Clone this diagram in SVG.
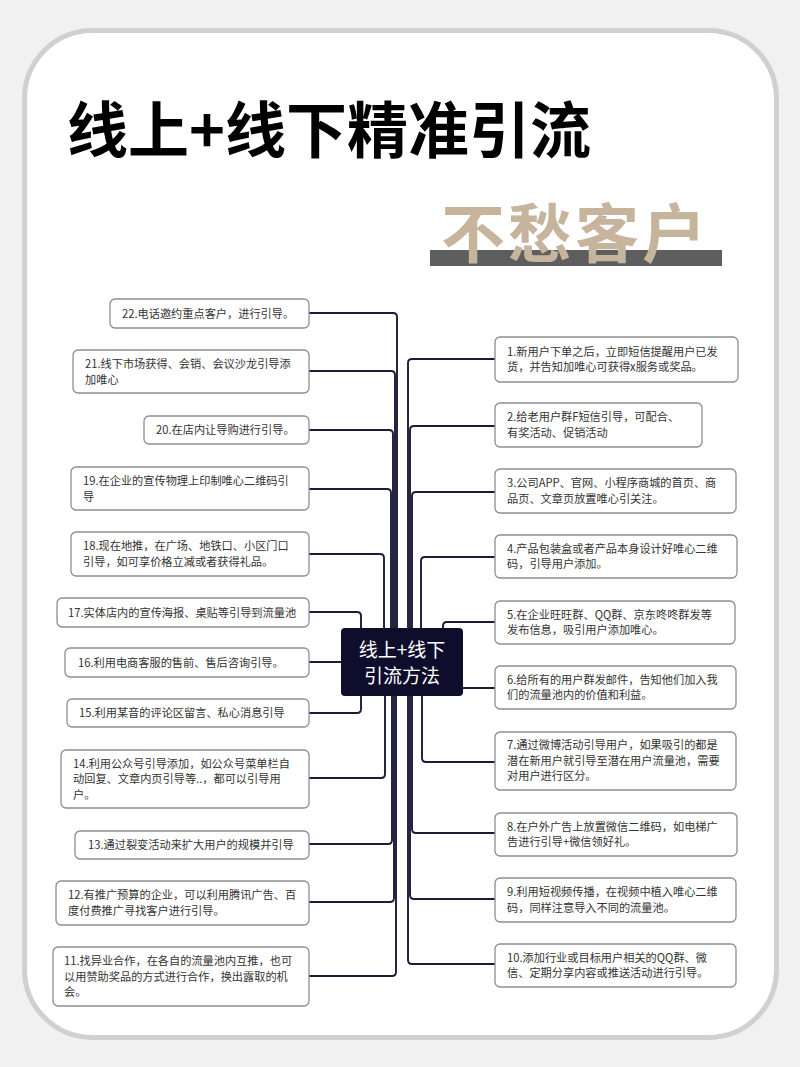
<svg xmlns="http://www.w3.org/2000/svg" width="800" height="1067" viewBox="0 0 800 1067">
<style>
.bx{fill:#ffffff;stroke:#8e8e8e;stroke-width:1.3}
.t{font-family:"Noto Sans CJK SC","Noto Sans",sans-serif;font-size:11.2px;fill:#333333}
.cn{fill:none;stroke:#1c1c3a;stroke-width:1.9;stroke-linejoin:round}
.ct{font-family:"Noto Sans CJK SC","Noto Sans",sans-serif;font-size:19px;fill:#ffffff;text-anchor:middle}
</style>
<rect x="0" y="0" width="800" height="1067" fill="#f1f1f1"/>
<rect x="24.5" y="30.5" width="752" height="1007" rx="68" fill="#ffffff" stroke="#d0d0d0" stroke-width="5"/>
<g id="title">
<text x="67" y="153" font-family="'Noto Sans CJK SC',sans-serif" font-size="61" font-weight="bold" fill="#000000">线上+线下精准引流</text>
</g>
<g id="subtitle">
<rect x="430" y="250" width="292" height="16" fill="#5e5e5e"/>
<text x="441" y="257" font-family="'Noto Sans CJK SC',sans-serif" font-size="64" font-weight="bold" letter-spacing="3" fill="#c6b49d">不愁客户</text>
</g>
<g id="connectors">
<path class="cn" d="M309,313 H393 Q397,313 397,317 V630"/>
<path class="cn" d="M309,371 H391 Q395,371 395,375 V630"/>
<path class="cn" d="M309,430 H389 Q393,430 393,434 V630"/>
<path class="cn" d="M309,489 H387 Q391,489 391,493 V630"/>
<path class="cn" d="M309,554 H380 Q384,554 384,558 V630"/>
<path class="cn" d="M309,612 H357 Q361,612 361,616 V630"/>
<path class="cn" d="M309,662 H343"/>
<path class="cn" d="M309,713 H357 Q361,713 361,709 V693"/>
<path class="cn" d="M309,778 H381 Q385,778 385,774 V693"/>
<path class="cn" d="M309,844 H388 Q392,844 392,840 V693"/>
<path class="cn" d="M309,902 H390 Q394,902 394,898 V693"/>
<path class="cn" d="M309,976 H392 Q396,976 396,972 V693"/>
<path class="cn" d="M495,359 H412 Q408,359 408,363 V630"/>
<path class="cn" d="M495,426 H414 Q410,426 410,430 V630"/>
<path class="cn" d="M495,492 H416 Q412,492 412,496 V630"/>
<path class="cn" d="M495,557 H425 Q421,557 421,561 V630"/>
<path class="cn" d="M495,622 H447 Q443,622 443,626 V630"/>
<path class="cn" d="M461,688 H495"/>
<path class="cn" d="M495,762 H426 Q422,762 422,758 V693"/>
<path class="cn" d="M495,833 H416 Q412,833 412,829 V693"/>
<path class="cn" d="M495,899 H414 Q410,899 410,895 V693"/>
<path class="cn" d="M495,964 H412 Q408,964 408,960 V693"/>
</g>
<g id="center">
<rect x="341" y="628" width="122" height="68" rx="4" fill="#0e0e2c"/>
<text class="ct" x="402" y="657">线上+线下</text>
<text class="ct" x="402" y="683">引流方法</text>
</g>
<g id="n22"><rect class="bx" x="110" y="299" width="199" height="29" rx="5"/><text class="t" x="122" y="317.5">22.电话邀约重点客户，进行引导。</text></g>
<g id="n21"><rect class="bx" x="73" y="350" width="236" height="43" rx="5"/><text class="t" x="85" y="368">21.线下市场获得、会销、会议沙龙引导添</text><text class="t" x="85" y="383.5">加唯心</text></g>
<g id="n20"><rect class="bx" x="144" y="416" width="165" height="28" rx="5"/><text class="t" x="156" y="434">20.在店内让导购进行引导。</text></g>
<g id="n19"><rect class="bx" x="71" y="467" width="238" height="43" rx="5"/><text class="t" x="83" y="485">19.在企业的宣传物理上印制唯心二维码引</text><text class="t" x="83" y="500.5">导</text></g>
<g id="n18"><rect class="bx" x="71" y="532" width="238" height="44" rx="5"/><text class="t" x="83" y="550.25">18.现在地推，在广场、地铁口、小区门口</text><text class="t" x="83" y="565.75">引导，如可享价格立减或者获得礼品。</text></g>
<g id="n17"><rect class="bx" x="57" y="598" width="252" height="29" rx="5"/><text class="t" x="68" y="616.5">17.实体店内的宣传海报、桌贴等引导到流量池</text></g>
<g id="n16"><rect class="bx" x="65" y="648" width="244" height="29" rx="5"/><text class="t" x="78" y="666.5">16.利用电商客服的售前、售后咨询引导。</text></g>
<g id="n15"><rect class="bx" x="67" y="699" width="242" height="28" rx="5"/><text class="t" x="79" y="717">15.利用某音的评论区留言、私心消息引导</text></g>
<g id="n14"><rect class="bx" x="61" y="750" width="248" height="58" rx="5"/><text class="t" x="73" y="767.5">14.利用公众号引导添加，如公众号菜单栏自</text><text class="t" x="73" y="783">动回复、文章内页引导等..，都可以引导用</text><text class="t" x="73" y="798.5">户。</text></g>
<g id="n13"><rect class="bx" x="75" y="831" width="234" height="28" rx="5"/><text class="t" x="88" y="849">13.通过裂变活动来扩大用户的规模并引导</text></g>
<g id="n12"><rect class="bx" x="56" y="881" width="253" height="44" rx="5"/><text class="t" x="68" y="899.25">12.有推广预算的企业，可以利用腾讯广告、百</text><text class="t" x="68" y="914.75">度付费推广寻找客户进行引导。</text></g>
<g id="n11"><rect class="bx" x="53" y="947" width="256" height="59" rx="5"/><text class="t" x="64" y="965">11.找异业合作，在各自的流量池内互推，也可</text><text class="t" x="64" y="980.5">以用赞助奖品的方式进行合作，换出露取的机</text><text class="t" x="64" y="996">会。</text></g>
<g id="n1"><rect class="bx" x="495" y="337" width="243" height="45" rx="5"/><text class="t" x="507" y="355.75">1.新用户下单之后，立即短信提醒用户已发</text><text class="t" x="507" y="371.25">货，并告知加唯心可获得x服务或奖品。</text></g>
<g id="n2"><rect class="bx" x="495" y="403" width="207" height="44" rx="5"/><text class="t" x="507" y="421.25">2.给老用户群F短信引导，可配合、</text><text class="t" x="507" y="436.75">有奖活动、促销活动</text></g>
<g id="n3"><rect class="bx" x="495" y="469" width="241" height="44" rx="5"/><text class="t" x="507" y="487.25">3.公司APP、官网、小程序商城的首页、商</text><text class="t" x="507" y="502.75">品页、文章页放置唯心引关注。</text></g>
<g id="n4"><rect class="bx" x="495" y="535" width="242" height="43" rx="5"/><text class="t" x="507" y="552.75">4.产品包装盒或者产品本身设计好唯心二维</text><text class="t" x="507" y="568.25">码，引导用户添加。</text></g>
<g id="n5"><rect class="bx" x="495" y="601" width="240" height="43" rx="5"/><text class="t" x="507" y="618.75">5.在企业旺旺群、QQ群、京东咚咚群发等</text><text class="t" x="507" y="634.25">发布信息，吸引用户添加唯心。</text></g>
<g id="n6"><rect class="bx" x="495" y="666" width="241" height="43" rx="5"/><text class="t" x="507" y="683.75">6.给所有的用户群发邮件，告知他们加入我</text><text class="t" x="507" y="699.25">们的流量池内的价值和利益。</text></g>
<g id="n7"><rect class="bx" x="495" y="732" width="241" height="58" rx="5"/><text class="t" x="507" y="749">7.通过微博活动引导用户，如果吸引的都是</text><text class="t" x="507" y="764.5">潜在新用户就引导至潜在用户流量池，需要</text><text class="t" x="507" y="780">对用户进行区分。</text></g>
<g id="n8"><rect class="bx" x="495" y="813" width="242" height="43" rx="5"/><text class="t" x="507" y="830.75">8.在户外广告上放置微信二维码，如电梯广</text><text class="t" x="507" y="846.25">告进行引导+微信领好礼。</text></g>
<g id="n9"><rect class="bx" x="495" y="878" width="241" height="44" rx="5"/><text class="t" x="507" y="896.25">9.利用短视频传播，在视频中植入唯心二维</text><text class="t" x="507" y="911.75">码，同样注意导入不同的流量池。</text></g>
<g id="n10"><rect class="bx" x="495" y="944" width="241" height="43" rx="5"/><text class="t" x="507" y="961.75">10.添加行业或目标用户相关的QQ群、微</text><text class="t" x="507" y="977.25">信、定期分享内容或推送活动进行引导。</text></g>
</svg>
